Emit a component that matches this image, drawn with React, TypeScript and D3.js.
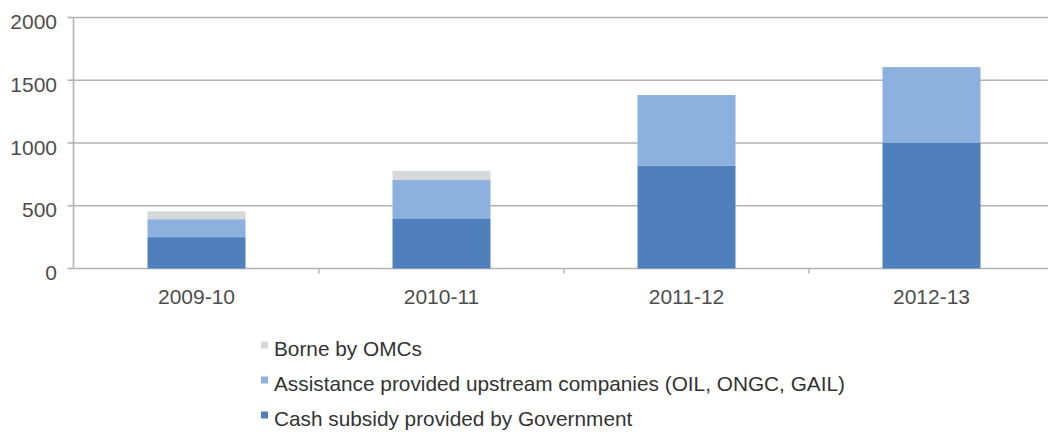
import React from "react";
import * as d3 from "d3";

const categories = ["2009-10", "2010-11", "2011-12", "2012-13"];
const cashSubsidy = [250, 400, 820, 1000];
const upstreamAssistance = [143, 305, 562, 605];
const borneByOMCs = [63, 73, 0, 0];
const yTicks = [0, 500, 1000, 1500, 2000];

const seriesKeys = ["cash", "upstream", "omc"];
const seriesLabels: Record<string, string> = {
  cash: "Cash subsidy provided by Government",
  upstream: "Assistance provided upstream companies (OIL, ONGC, GAIL)",
  omc: "Borne by OMCs",
};
const seriesColors: Record<string, string> = {
  cash: "#4f80bd",
  upstream: "#8cb1df",
  omc: "#d6d7d9",
};
const legendOrder = ["omc", "upstream", "cash"];

const W = 1048;
const H = 432;
const FONT = "'Liberation Sans', Arial, Helvetica, sans-serif";

export default function App() {
  const rows = categories.map((c, i) => ({
    cat: c,
    cash: cashSubsidy[i],
    upstream: upstreamAssistance[i],
    omc: borneByOMCs[i],
  }));
  const stacked = d3.stack<any>().keys(seriesKeys)(rows);

  const x = d3.scaleBand<string>().domain(categories).range([74, 1054]).paddingInner(0).paddingOuter(0);
  const y = d3.scaleLinear().domain([0, 2000]).range([268.5, 17.5]);
  const step = x.step();
  const barW = step * 0.4;
  const x0 = 73.5;

  return (
    <svg width={W} height={H} style={{ position: "absolute", left: 0, top: 0, background: "#fff" }} fontFamily={FONT}>
      {/* gridlines */}
      {yTicks.map((t) => (
        <line key={"g" + t} x1={x0} x2={W} y1={y(t)} y2={y(t)} stroke="#b3b3b3" strokeWidth={1.6} />
      ))}
      {/* y tick marks */}
      {yTicks.map((t) => (
        <line key={"yt" + t} x1={x0 - 6} x2={x0} y1={y(t)} y2={y(t)} stroke="#b3b3b3" strokeWidth={1.6} />
      ))}
      {/* y axis line */}
      <line x1={x0} x2={x0} y1={y(2000)} y2={y(0)} stroke="#b3b3b3" strokeWidth={1.6} />
      {/* x boundary ticks */}
      {categories.slice(1).map((c) => (
        <line key={"xt" + c} x1={x(c)!} x2={x(c)!} y1={y(0)} y2={y(0) + 5} stroke="#b3b3b3" strokeWidth={1.4} />
      ))}
      {/* bars */}
      {stacked.map((s) => (
        <g key={s.key} fill={seriesColors[s.key]}>
          {s.map((d, i) =>
            d[1] - d[0] > 0 ? (
              <rect
                key={i}
                x={x(categories[i])! + (step - barW) / 2}
                width={barW}
                y={y(d[1])}
                height={y(d[0]) - y(d[1])}
              />
            ) : null
          )}
        </g>
      ))}
      {/* y labels */}
      {yTicks.map((t) => (
        <text key={"yl" + t} x={57} y={y(t) + 11.5} textAnchor="end" fontSize={21} fill="#4d4d4d">
          {t}
        </text>
      ))}
      {/* x labels */}
      {categories.map((c) => (
        <text key={"xl" + c} x={x(c)! + step / 2} y={303.5} textAnchor="middle" fontSize={21} fill="#4d4d4d">
          {c}
        </text>
      ))}
      {/* legend */}
      {legendOrder.map((k, i) => (
        <g key={"lg" + k} transform={`translate(261, ${356 + i * 35})`}>
          <rect x={0} y={-14.5} width={7} height={7} fill={seriesColors[k]} />
          <text x={13} y={0} fontSize={20.8} fill="#333">
            {seriesLabels[k]}
          </text>
        </g>
      ))}
    </svg>
  );
}
